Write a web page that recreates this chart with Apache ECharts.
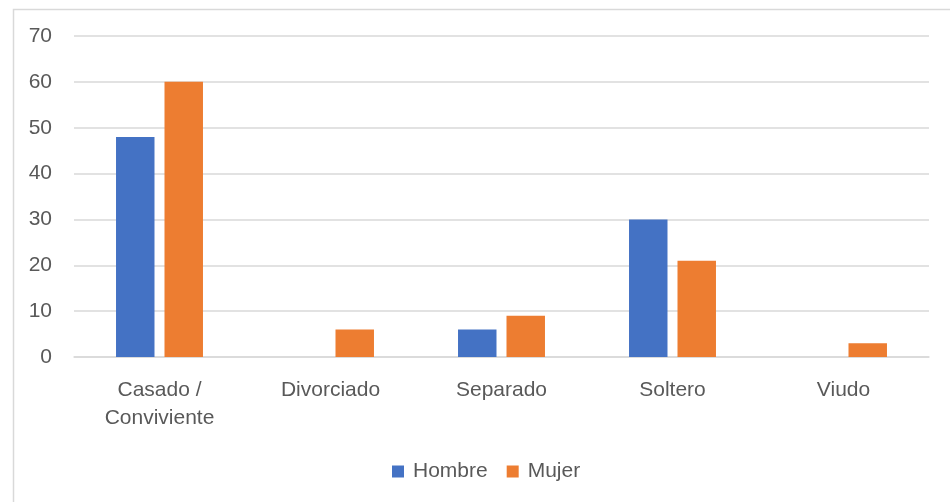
<!DOCTYPE html>
<html>
<head>
<meta charset="utf-8">
<script src="https://cdn.jsdelivr.net/npm/echarts@6/dist/echarts.min.js"></script>
<style>html,body{margin:0;padding:0;background:#fff;}#c{width:950px;height:502px;}</style>
</head>
<body>
<div id="c"></div>
<script>
var categories = ['Casado /\nConviviente', 'Divorciado', 'Separado', 'Soltero', 'Viudo'];
var hombre = [48, 0, 6, 30, 0];
var mujer = [60, 6, 9, 21, 3];
var seriesNames = ['Hombre', 'Mujer'];
var yMin = 0, yMax = 70, yStep = 10;

var font = '"Liberation Sans", Arial, sans-serif';
var chart = echarts.init(document.getElementById('c'), null, {renderer: 'canvas'});
chart.setOption({
  animation: false,
  backgroundColor: '#fff',
  graphic: [{
    type: 'rect', left: 11, top: 7, silent: true,
    shape: {x: 0, y: 0, width: 960, height: 520},
    style: {fill: 'none', stroke: '#d9d9d9', lineWidth: 1.5}
  }],
  grid: {left: 74, right: 21, top: 36, bottom: 145, containLabel: false},
  legend: {
    data: seriesNames,
    left: 387, top: 456,
    itemWidth: 12, itemHeight: 12, itemGap: 19,
    icon: 'rect',
    textStyle: {color: '#595959', fontSize: 21, fontFamily: font, padding: [0, 0, 0, 4]}
  },
  xAxis: {
    type: 'category', data: categories,
    axisLine: {show: true, lineStyle: {color: '#d9d9d9', width: 1.5}},
    axisTick: {show: false},
    axisLabel: {color: '#595959', fontSize: 21, fontFamily: font, lineHeight: 28, margin: 19, interval: 0}
  },
  yAxis: {
    type: 'value', min: yMin, max: yMax, interval: yStep,
    axisLine: {show: false}, axisTick: {show: false},
    splitLine: {lineStyle: {color: '#d9d9d9', width: 1.5}},
    axisLabel: {color: '#595959', fontSize: 21, fontFamily: font, margin: 22}
  },
  series: [
    {name: seriesNames[0], type: 'bar', data: hombre, itemStyle: {color: '#4472c4'}, barWidth: '22.5%', barGap: '26%'},
    {name: seriesNames[1], type: 'bar', data: mujer, itemStyle: {color: '#ed7d31'}, barWidth: '22.5%', barGap: '26%'}
  ]
});
</script>
</body>
</html>
